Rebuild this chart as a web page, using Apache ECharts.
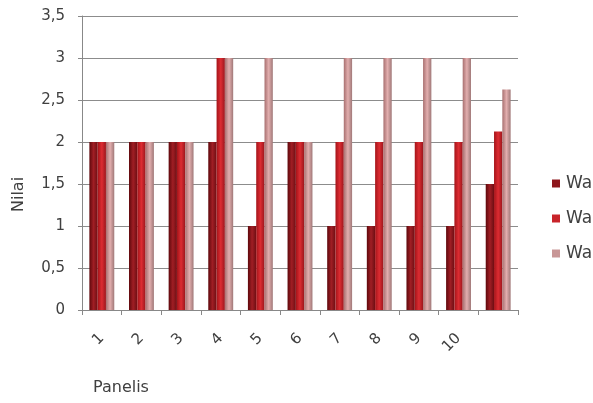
<!DOCTYPE html>
<html>
<head>
<meta charset="utf-8">
<script src="https://cdn.jsdelivr.net/npm/echarts@6/dist/echarts.min.js"></script>
<style>
  html, body { margin: 0; padding: 0; background: #ffffff; }
  #chart { width: 593px; height: 403px; }
</style>
</head>
<body>
<div id="chart"></div>
<script>
// Panel categories (the last group carries no label)
const categories = ['1', '2', '3', '4', '5', '6', '7', '8', '9', '10', ''];
// Scores per series
const seriesNames = ['Waktu 1', 'Waktu 2', 'Waktu 3'];
const valuesA = [2, 2, 2, 2, 1, 2, 1, 1, 1, 1, 1.5];
const valuesB = [2, 2, 2, 3, 2, 2, 2, 2, 2, 2, 2.125];
const valuesC = [2, 2, 2, 3, 3, 2, 3, 3, 3, 3, 2.625];
// Value axis ticks
const yMin = 0, yMax = 3.5, yStep = 0.5;

const fontFam = '"DejaVu Sans", Verdana, sans-serif';

function grad(c0, c1, c2) {
  return new echarts.graphic.LinearGradient(0, 0, 1, 0, [
    { offset: 0, color: c0 },
    { offset: 0.5, color: c1 },
    { offset: 1, color: c2 }
  ]);
}

const palette = [
  grad('#5e080c', '#a01e24', '#6e0e13'),
  grad('#a41419', '#dc2c32', '#9c161c'),
  grad('#a87070', '#e2aeae', '#a07878')
];
const legendColors = ['#8e161c', '#c8242a', '#c89696'];

const chart = echarts.init(document.getElementById('chart'), null, { renderer: 'canvas' });

const makeBar = (name, data, i) => ({
  name: name,
  type: 'bar',
  data: data,
  barWidth: 8.3,
  barGap: '0%',
  itemStyle: { color: palette[i] },
  emphasis: { disabled: true }
});

chart.setOption({
  animation: false,
  backgroundColor: '#ffffff',
  grid: { left: 82, right: 75, top: 16, bottom: 93, containLabel: false },
  legend: {
    orient: 'vertical',
    left: 547,
    top: 170,
    itemWidth: 8,
    itemHeight: 8,
    itemGap: 18,
    icon: 'rect',
    textStyle: { fontFamily: fontFam, fontSize: 17, color: '#404040', padding: [0, 0, 0, 1] },
    data: seriesNames.map((n, i) => ({ name: n, itemStyle: { color: legendColors[i] } }))
  },
  xAxis: {
    type: 'category',
    data: categories,
    axisLine: { lineStyle: { color: '#888888', width: 1 } },
    axisTick: { show: true, length: 5, alignWithLabel: false, lineStyle: { color: '#888888' } },
    axisLabel: {
      interval: 0,
      rotate: 45,
      margin: 26,
      fontFamily: fontFam,
      fontSize: 15,
      color: '#404040'
    }
  },
  yAxis: {
    type: 'value',
    min: yMin,
    max: yMax,
    interval: yStep,
    axisLine: { show: true, lineStyle: { color: '#888888', width: 1 } },
    axisTick: { show: true, length: 4, inside: false, lineStyle: { color: '#888888' } },
    splitLine: { lineStyle: { color: '#8c8c8c', width: 1 } },
    axisLabel: {
      margin: 17,
      fontFamily: fontFam,
      fontSize: 15,
      color: '#404040',
      formatter: v => String(v).replace('.', ',')
    }
  },
  graphic: [
    {
      type: 'text',
      left: 93,
      top: 380,
      style: { text: 'Panelis', font: '16px ' + fontFam, fill: '#404040' }
    },
    {
      type: 'text',
      x: 11,
      y: 212,
      rotation: Math.PI / 2,
      style: { text: 'Nilai', font: '16px ' + fontFam, fill: '#404040' }
    }
  ],
  series: [
    makeBar(seriesNames[0], valuesA, 0),
    makeBar(seriesNames[1], valuesB, 1),
    makeBar(seriesNames[2], valuesC, 2)
  ]
});
</script>
</body>
</html>
